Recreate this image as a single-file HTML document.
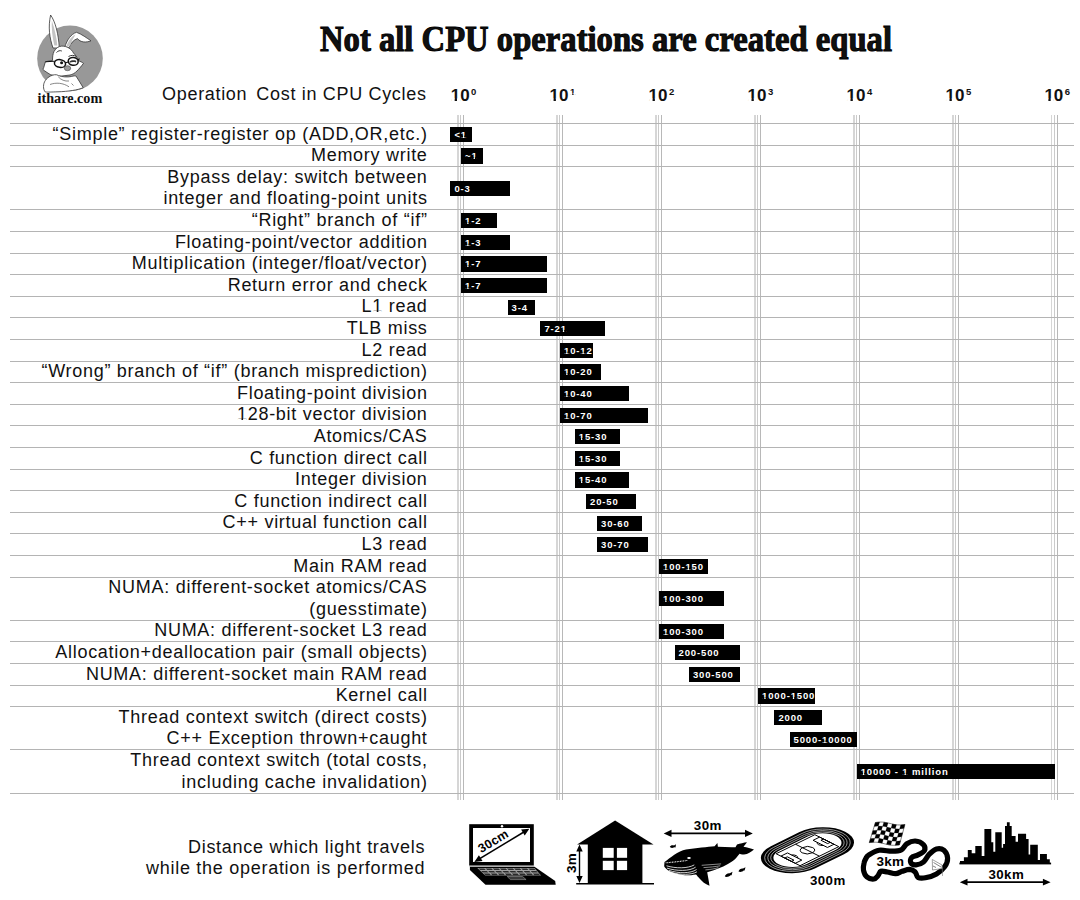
<!DOCTYPE html>
<html><head><meta charset="utf-8">
<style>
html,body{margin:0;padding:0;background:#fff;}
body{width:1080px;height:900px;position:relative;overflow:hidden;font-family:"Liberation Sans",sans-serif;color:#111;}
.hl{position:absolute;left:10px;width:1064px;height:1px;background:#b4b4b4;}
.vl{position:absolute;top:115px;height:685px;width:1.4px;}
.vl.a{background:#d6d6d6;width:1.8px}
.vl.b{background:#cbcbcb;}
.vl.c{background:#b8b8b8;width:1.2px}
.lb{position:absolute;right:652.4px;height:21.6px;line-height:21.9px;font-size:18px;white-space:nowrap;letter-spacing:0.72px;}
.bar{position:absolute;height:15.3px;background:#000;color:#fff;font-weight:bold;font-size:9.5px;line-height:15.3px;letter-spacing:0.85px;padding-left:4px;box-sizing:border-box;white-space:nowrap;}
.ax{position:absolute;top:85.6px;font-weight:bold;font-size:17px;line-height:20px;}
.ax sup{font-size:9.5px;vertical-align:0;position:relative;top:-5.6px;margin-left:1.5px}
.title{position:absolute;left:320px;top:19.6px;font-family:"Liberation Serif",serif;font-weight:bold;font-size:35px;white-space:nowrap;transform-origin:0 0;transform:scaleX(0.933);-webkit-text-stroke:1px #000;}
.hdr{position:absolute;right:653.4px;top:84px;font-size:18px;line-height:20px;white-space:nowrap;letter-spacing:0.68px}
.dist{position:absolute;right:654.8px;top:837.2px;font-size:18px;line-height:21.2px;text-align:right;white-space:nowrap;letter-spacing:0.72px}
.ic{position:absolute;left:0;top:0;}
.logo-t{position:absolute;left:37.5px;top:89.5px;font-family:"Liberation Serif",serif;font-weight:bold;font-size:14.2px;white-space:nowrap;}
</style></head><body>
<div class="logo-t">ithare.com</div>
<div class="title">Not all CPU operations are created equal</div>
<div class="hdr">Operation <span style="margin-left:3.4px"></span>Cost in CPU Cycles</div>
<div class="vl a" style="left:457.0px"></div>
<div class="vl b" style="left:459.8px"></div>
<div class="vl c" style="left:463.0px"></div>
<div class="vl a" style="left:555.9px"></div>
<div class="vl b" style="left:558.8px"></div>
<div class="vl c" style="left:561.9px"></div>
<div class="vl a" style="left:654.9px"></div>
<div class="vl b" style="left:657.7px"></div>
<div class="vl c" style="left:660.9px"></div>
<div class="vl a" style="left:753.8px"></div>
<div class="vl b" style="left:756.6px"></div>
<div class="vl c" style="left:759.8px"></div>
<div class="vl a" style="left:852.8px"></div>
<div class="vl b" style="left:855.6px"></div>
<div class="vl c" style="left:858.8px"></div>
<div class="vl a" style="left:951.8px"></div>
<div class="vl b" style="left:954.6px"></div>
<div class="vl c" style="left:957.8px"></div>
<div class="vl a" style="left:1050.7px"></div>
<div class="vl b" style="left:1053.5px"></div>
<div class="vl c" style="left:1056.7px"></div>
<div class="hl" style="top:123px"></div>
<div class="hl" style="top:145px"></div>
<div class="hl" style="top:166px"></div>
<div class="hl" style="top:209px"></div>
<div class="hl" style="top:231px"></div>
<div class="hl" style="top:253px"></div>
<div class="hl" style="top:274px"></div>
<div class="hl" style="top:296px"></div>
<div class="hl" style="top:317px"></div>
<div class="hl" style="top:339px"></div>
<div class="hl" style="top:361px"></div>
<div class="hl" style="top:382px"></div>
<div class="hl" style="top:404px"></div>
<div class="hl" style="top:425px"></div>
<div class="hl" style="top:447px"></div>
<div class="hl" style="top:469px"></div>
<div class="hl" style="top:490px"></div>
<div class="hl" style="top:512px"></div>
<div class="hl" style="top:533px"></div>
<div class="hl" style="top:555px"></div>
<div class="hl" style="top:577px"></div>
<div class="hl" style="top:620px"></div>
<div class="hl" style="top:641px"></div>
<div class="hl" style="top:663px"></div>
<div class="hl" style="top:685px"></div>
<div class="hl" style="top:706px"></div>
<div class="hl" style="top:749px"></div>
<div class="hl" style="top:793px"></div>
<div class="lb" style="top:123.5px">“Simple” register-register op (ADD,OR,etc.)</div>
<div class="bar" style="left:450.4px;top:126.7px;width:21.6px">&lt;1</div>
<div class="lb" style="top:145.1px">Memory write</div>
<div class="bar" style="left:461.0px;top:148.3px;width:22.0px">~1</div>
<div class="lb" style="top:166.7px">Bypass delay: switch between</div>
<div class="lb" style="top:188.3px">integer and floating-point units</div>
<div class="bar" style="left:450.4px;top:180.7px;width:59.8px">0-3</div>
<div class="lb" style="top:209.9px">“Right” branch of “if”</div>
<div class="bar" style="left:461.0px;top:213.1px;width:35.6px">1-2</div>
<div class="lb" style="top:231.5px">Floating-point/vector addition</div>
<div class="bar" style="left:461.0px;top:234.7px;width:49.2px">1-3</div>
<div class="lb" style="top:253.1px">Multiplication (integer/float/vector)</div>
<div class="bar" style="left:461.0px;top:256.3px;width:86.0px">1-7</div>
<div class="lb" style="top:274.7px">Return error and check</div>
<div class="bar" style="left:461.0px;top:277.9px;width:86.0px">1-7</div>
<div class="lb" style="top:296.3px">L1 read</div>
<div class="bar" style="left:507.6px;top:299.5px;width:27.5px">3-4</div>
<div class="lb" style="top:317.9px">TLB miss</div>
<div class="bar" style="left:540.4px;top:321.1px;width:64.6px">7-21</div>
<div class="lb" style="top:339.5px">L2 read</div>
<div class="bar" style="left:560.0px;top:342.7px;width:33.0px">10-12</div>
<div class="lb" style="top:361.1px">“Wrong” branch of “if” (branch misprediction)</div>
<div class="bar" style="left:560.0px;top:364.3px;width:40.8px">10-20</div>
<div class="lb" style="top:382.7px">Floating-point division</div>
<div class="bar" style="left:560.0px;top:385.9px;width:68.8px">10-40</div>
<div class="lb" style="top:404.3px">128-bit vector division</div>
<div class="bar" style="left:560.0px;top:407.5px;width:87.5px">10-70</div>
<div class="lb" style="top:425.9px">Atomics/CAS</div>
<div class="bar" style="left:574.8px;top:429.1px;width:45.0px">15-30</div>
<div class="lb" style="top:447.5px">C function direct call</div>
<div class="bar" style="left:574.8px;top:450.7px;width:45.0px">15-30</div>
<div class="lb" style="top:469.1px">Integer division</div>
<div class="bar" style="left:574.8px;top:472.3px;width:54.0px">15-40</div>
<div class="lb" style="top:490.7px">C function indirect call</div>
<div class="bar" style="left:586.0px;top:493.9px;width:50.2px">20-50</div>
<div class="lb" style="top:512.3px">C++ virtual function call</div>
<div class="bar" style="left:597.0px;top:515.5px;width:45.0px">30-60</div>
<div class="lb" style="top:533.9px">L3 read</div>
<div class="bar" style="left:597.0px;top:537.1px;width:50.5px">30-70</div>
<div class="lb" style="top:555.5px">Main RAM read</div>
<div class="bar" style="left:659.0px;top:558.7px;width:48.6px">100-150</div>
<div class="lb" style="top:577.1px">NUMA: different-socket atomics/CAS</div>
<div class="lb" style="top:598.7px">(guesstimate)</div>
<div class="bar" style="left:659.0px;top:591.1px;width:65.2px">100-300</div>
<div class="lb" style="top:620.3px">NUMA: different-socket L3 read</div>
<div class="bar" style="left:659.0px;top:623.5px;width:65.2px">100-300</div>
<div class="lb" style="top:641.9px">Allocation+deallocation pair (small objects)</div>
<div class="bar" style="left:674.6px;top:645.1px;width:65.2px">200-500</div>
<div class="lb" style="top:663.5px">NUMA: different-socket main RAM read</div>
<div class="bar" style="left:688.9px;top:666.7px;width:50.9px">300-500</div>
<div class="lb" style="top:685.1px">Kernel call</div>
<div class="bar" style="left:758.1px;top:688.3px;width:57.1px">1000-1500</div>
<div class="lb" style="top:706.7px">Thread context switch (direct costs)</div>
<div class="bar" style="left:774.4px;top:709.9px;width:48.1px">2000</div>
<div class="lb" style="top:728.3px">C++ Exception thrown+caught</div>
<div class="bar" style="left:789.5px;top:731.5px;width:67.2px">5000-10000</div>
<div class="lb" style="top:749.9px">Thread context switch (total costs,</div>
<div class="lb" style="top:771.5px">including cache invalidation)</div>
<div class="bar" style="left:856.7px;top:763.9px;width:198.0px">10000 - 1 million</div>
<div class="ax" style="left:450.7px">10<sup>0</sup></div>
<div class="ax" style="left:549.6px">10<sup>1</sup></div>
<div class="ax" style="left:648.6px">10<sup>2</sup></div>
<div class="ax" style="left:747.5px">10<sup>3</sup></div>
<div class="ax" style="left:846.5px">10<sup>4</sup></div>
<div class="ax" style="left:945.5px">10<sup>5</sup></div>
<div class="ax" style="left:1044.4px">10<sup>6</sup></div>
<svg class="ic" width="1080" height="900" viewBox="0 0 1080 900">
<!-- logo -->
<g id="logo">
<circle cx="70" cy="58.4" r="32.8" fill="#989898"/>
<path d="M53,48 C49.5,38 48,27 50.6,15 C55.5,22 58.5,34 59.3,48 Z" fill="#fff" stroke="#333" stroke-width="0.8"/>
<path d="M54.3,45.5 C52.3,37 51.5,29 51.8,20.5 C54.5,28 56.5,37 57.3,45.5 Z" fill="#c4c4c4"/>
<path d="M64.8,47 C67,40 71,34 76.5,32.3 C81.5,34 87,38.2 91,40.8 C86,42.8 80.5,42.5 77.5,38.6 C73.5,40 70.8,43 69.2,47.5 Z" fill="#fff" stroke="#333" stroke-width="0.8"/>
<path d="M66.5,46 C68.8,40 72,36 75.5,34.5 C73.2,38.5 71.2,42 70,46.2 Z" fill="#c4c4c4"/>
<path d="M61.8,46.1 C67,46 71.5,49 73.5,53 C76,55.5 77.5,58 78,60.5 C80.5,61.5 82.5,62.5 83.5,63.3 C81.5,66 79,69 77,71 C75,73 72.5,74.5 70,75 L58,76.5 C55,76 52.5,75 50.8,74.8 C48.5,73.5 47,72.5 46,71.8 C44.5,71 43.5,70 42.9,69.3 C44,67.5 44.5,64.5 45.3,62 C48,61 50.5,60.8 52.5,60.5 C52.5,57 52.8,54 54,51.5 C56,48 58.5,46.3 61.8,46.1 Z" fill="#fff" stroke="#333" stroke-width="0.8"/>
<ellipse cx="60" cy="63.5" rx="5.6" ry="3.9" fill="#fff" stroke="#111" stroke-width="1.5" transform="rotate(8 60 63.5)"/>
<ellipse cx="73.2" cy="61.4" rx="5" ry="3.9" fill="#fff" stroke="#111" stroke-width="1.5" transform="rotate(8 73.2 61.4)"/>
<path d="M45.3,61.7 L54.5,61.3 M65.5,62.8 L68.3,62 M78,60 L79.5,58.6" stroke="#111" stroke-width="1.1" fill="none"/>
<circle cx="61.6" cy="62.8" r="1.5" fill="#111"/>
<path d="M69.5,61.6 C71,60.2 73.5,60 76.3,60.8 L76,62.5 C74,61.8 71.5,62 69.5,62.8 Z" fill="#333"/>
<path d="M56.5,52.5 C58,50.8 60,50.2 61.8,51 M68.5,56.5 C71,55 74,55 76.5,56.5" stroke="#222" stroke-width="0.9" fill="none"/>
<ellipse cx="67.5" cy="68.2" rx="3.2" ry="2.5" fill="#9a9a9a" stroke="#444" stroke-width="0.6"/>
<path d="M43.5,86.5 C43.5,82 46,78.5 50.5,76 C53,74.8 56,74 58.5,75.5 C62,77 67,77.3 71.5,76.5 C73.5,76 75,75.6 76,76 C78.5,80 81,84 83.2,87.7 C78,90 68,91.5 58,91.8 C52,92 47.5,92.2 45.3,92 C44,90.5 43.5,88.5 43.5,86.5 Z" fill="#fff" stroke="#333" stroke-width="0.8"/>
<path d="M50,84.5 C56,82.3 63,82.8 69,86.8 M58.2,76.7 C61,80 65,81.5 69,81 M71.5,83.5 L73.5,85.5" stroke="#555" stroke-width="0.7" fill="none"/>
</g>
<!-- laptop -->
<g id="laptop">
<rect x="469.2" y="824.2" width="64.6" height="41.4" fill="#000"/>
<rect x="473" y="828" width="57" height="34" fill="#fff"/>
<circle cx="502" cy="826.2" r="1.2" fill="#fff"/>
<rect x="469.5" y="865.8" width="65" height="1.1" fill="#a8a8a8"/>
<path d="M469.9,867 L534.9,867 L555.2,881 L555.7,884.8 L485.5,884.8 L469.9,870 Z" fill="#000"/>
<path d="M477.3,868.0 L534.5,868.0 L541.1,875.6 L485.2,875.6 Z" fill="#a0a0a0"/>
<path d="M478.46,868.46 L484.23,868.46 L485.88,870.08 L480.14,870.08Z M481.09,870.99 L486.81,870.99 L488.47,872.61 L482.77,872.61Z M483.72,873.52 L489.40,873.52 L491.05,875.14 L485.40,875.14Z M485.60,868.46 L491.37,868.46 L492.99,870.08 L487.25,870.08Z M488.17,870.99 L493.90,870.99 L495.52,872.61 L489.82,872.61Z M490.75,873.52 L496.43,873.52 L498.05,875.14 L492.39,875.14Z M492.74,868.46 L498.51,868.46 L500.09,870.08 L494.35,870.08Z M495.26,870.99 L500.99,870.99 L502.57,872.61 L496.87,872.61Z M497.78,873.52 L503.46,873.52 L505.05,875.14 L499.39,875.14Z M499.88,868.46 L505.65,868.46 L507.20,870.08 L501.46,870.08Z M502.35,870.99 L508.07,870.99 L509.62,872.61 L503.92,872.61Z M504.81,873.52 L510.49,873.52 L512.04,875.14 L506.39,875.14Z M507.02,868.46 L512.79,868.46 L514.31,870.08 L508.56,870.08Z M509.43,870.99 L515.16,870.99 L516.67,872.61 L510.98,872.61Z M511.84,873.52 L517.53,873.52 L519.04,875.14 L513.39,875.14Z M514.16,868.46 L519.93,868.46 L521.41,870.08 L515.67,870.08Z M516.52,870.99 L522.24,870.99 L523.72,872.61 L518.03,872.61Z M518.88,873.52 L524.56,873.52 L526.04,875.14 L520.38,875.14Z M521.30,868.46 L527.07,868.46 L528.52,870.08 L522.77,870.08Z M523.60,870.99 L529.33,870.99 L530.78,872.61 L525.08,872.61Z M525.91,873.52 L531.59,873.52 L533.04,875.14 L527.38,875.14Z M528.44,868.46 L534.21,868.46 L535.62,870.08 L529.88,870.08Z M530.69,870.99 L536.42,870.99 L537.83,872.61 L532.13,872.61Z M532.94,873.52 L538.62,873.52 L540.03,875.14 L534.38,875.14Z" fill="#2a2a2a"/>
<path d="M507.2,876.5 L522.6,876.5 L526.1,879.6 L510.3,879.6 Z" fill="#3a3a3a" stroke="#9a9a9a" stroke-width="0.6"/>
<g transform="translate(474.3,862) rotate(-31.15)">
<line x1="4" y1="0" x2="60.3" y2="0" stroke="#000" stroke-width="1.6"/>
<path d="M0,0 L7.5,-3.5 L7.5,3.5 Z M64.3,0 L56.8,-3.5 L56.8,3.5 Z" fill="#000"/>
<text x="10.5" y="-4" font-family="Liberation Sans" font-weight="bold" font-size="12.5" letter-spacing="0.3">30cm</text>
</g>
</g>
<!-- house -->
<g id="house">
<path d="M615.1,820.6 L653.5,844.4 L577.1,844.4 Z" fill="#000"/>
<rect x="587.8" y="844" width="54.6" height="39.7" fill="#000"/>
<rect x="576.2" y="883" width="77.8" height="1.5" fill="#000"/>
<rect x="602.8" y="847.9" width="10.9" height="9.9" fill="#fff"/>
<rect x="616.9" y="847.9" width="10.2" height="9.9" fill="#fff"/>
<rect x="602.8" y="860.8" width="10.9" height="9.3" fill="#fff"/>
<rect x="616.9" y="860.8" width="10.2" height="9.3" fill="#fff"/>
<line x1="579.5" y1="849" x2="579.5" y2="879" stroke="#000" stroke-width="1.4"/>
<path d="M579.5,844.4 L576.3,851.5 L582.7,851.5 Z M579.5,883 L576.3,875.9 L582.7,875.9 Z" fill="#000"/>
<text transform="translate(576.4,873) rotate(-90)" font-family="Liberation Sans" font-weight="bold" font-size="13.5" letter-spacing="0.2">3m</text>
</g>
<!-- whale -->
<g id="whale">
<line x1="670" y1="833.4" x2="746" y2="833.4" stroke="#000" stroke-width="1.7"/>
<path d="M663.7,833.4 L671.5,829.8 L671.5,837 Z M752.8,833.4 L745,829.8 L745,837 Z" fill="#000"/>
<text x="693.8" y="829.7" font-family="Liberation Sans" font-weight="bold" font-size="13.4" letter-spacing="0.45">30m</text>
<path d="M664.5,862 C670,858 678,851 686,849.5 C696,848 708,847 714.6,846.3 L717.4,843.1 L717.9,846.8 C724,847 730,847.5 735.5,847.2 L737,844.5 C740,843.5 744,842.5 747,842.2 L743.5,846.8 C747,847.5 751,848.5 754,849.6 C751,852 748,854.5 744,854.5 C741,854.5 740,853.5 739.6,853.7 C737,857 735,859.5 732,861.5 C727,865 720,868 713,870.5 L707.2,872.3 C708,877 709,882 709.5,885.7 C705,884 702,881.5 700,879 C698,877 697,875.5 696,874.5 C690,875.5 686,875.5 683,875 C676,874 670,872 667,869.5 C665,868 664,866.5 664.2,865.8 Z" fill="#000"/>
<ellipse cx="689" cy="858" rx="1.8" ry="1" fill="#fff"/>
<path d="M665.7,862.8 C673.0,862.3 680.4,861.3 687.8,860.4" stroke="#fff" stroke-width="1.1" fill="none" stroke-dasharray="0.9 0.7"/>
<path d="M666.5,865.8 C675.7,868.6 687.8,868.6 694.3,864.9 M666.9,868.1 C676.7,871.3 689.6,871.3 695.6,867.2 M668.8,870.4 C678.5,873.6 690.6,873.6 696.6,869.5 M672.0,872.7 C680.4,875.0 691.5,875.0 697.0,871.8" stroke="#fff" stroke-width="0.8" fill="none"/>
<path d="M701.7,865.3 C708.1,864.9 714.6,864.4 721.1,863.9 M703.5,867.6 C710.0,867.2 715.6,866.7 720.2,865.8 M705.4,869.9 C710.9,869.5 715.6,868.6 718.3,867.6" stroke="#fff" stroke-width="0.55" fill="none"/>
<path d="M669.8,846.8 C670.5,845.2 672.5,844.8 674,845.6 L676,844.3 L675.5,847.5 L674.2,847.2 C672.5,848.3 670.5,848 669.8,846.8 Z" fill="#000"/>
<path d="M724.8,876.5 C725.3,874.3 727.5,873 729.8,873.3 L732.5,871.8 L731.6,875.2 L730.5,875.3 C729,876.8 726.5,877.3 724.8,876.5 Z" fill="#000"/>
<path d="M738.5,871.5 C739,869.5 741,868.3 743,868.6 L745.5,867.2 L744.6,870.4 L743.6,870.5 C742.3,872 740,872.3 738.5,871.5 Z" fill="#000"/>
</g>
<!-- stadium -->
<g id="stadium">
<g transform="matrix(0.2513,-0.1237,0.239,0.1195,807.45,850.2)">
<path d="M-57,-93 L57,-93 A93,93 0 0 1 57,93 L-57,93 A93,93 0 0 1 -57,-93 Z" fill="#000"/>
<path d="M-57,-82 L57,-82 A82,82 0 0 1 57,82 L-57,82 A82,82 0 0 1 -57,-82 Z" fill="none" stroke="#fff" stroke-width="0.6" vector-effect="non-scaling-stroke"/>
<path d="M-57,-73 L57,-73 A73,73 0 0 1 57,73 L-57,73 A73,73 0 0 1 -57,-73 Z" fill="none" stroke="#fff" stroke-width="0.6" vector-effect="non-scaling-stroke"/>
<path d="M-57,-64.5 L57,-64.5 A64.5,64.5 0 0 1 57,64.5 L-57,64.5 A64.5,64.5 0 0 1 -57,-64.5 Z" fill="none" stroke="#fff" stroke-width="0.6" vector-effect="non-scaling-stroke"/>
<path d="M-57,-57 L57,-57 A57,57 0 0 1 57,57 L-57,57 A57,57 0 0 1 -57,-57 Z" fill="#fff"/>
<g fill="none" stroke="#000" stroke-width="1" vector-effect="non-scaling-stroke">
<rect x="-77" y="-50" width="154" height="100" vector-effect="non-scaling-stroke"/>
<line x1="0" y1="-50" x2="0" y2="50" vector-effect="non-scaling-stroke"/>
<circle cx="0" cy="0" r="21" vector-effect="non-scaling-stroke"/>
<rect x="-77" y="-30" width="26" height="60" vector-effect="non-scaling-stroke"/>
<rect x="51" y="-30" width="26" height="60" vector-effect="non-scaling-stroke"/>
<rect x="-77" y="-14" width="10" height="28" vector-effect="non-scaling-stroke"/>
<rect x="67" y="-14" width="10" height="28" vector-effect="non-scaling-stroke"/>
<path d="M-51,-13 A16,16 0 0 1 -51,13 M51,-13 A16,16 0 0 0 51,13" vector-effect="non-scaling-stroke"/>
</g>
</g>
<text x="810" y="884.7" font-family="Liberation Sans" font-weight="bold" font-size="13.3" letter-spacing="0.4">300m</text>
</g>
<!-- race track -->
<g id="race">
<path d="M868.9,854.9 C871.0,853.6 875.2,850.9 879.1,850.3 C882.9,849.7 888.3,851.3 892.0,851.2 C895.7,851.1 898.8,851.0 901.3,849.8 C903.8,848.6 904.5,845.3 906.9,843.8 C909.2,842.3 912.4,840.9 915.2,841.0 C918.0,841.2 922.0,843.1 923.5,844.7 C925.0,846.3 925.2,849.0 924.3,850.7 C923.3,852.4 920.1,853.8 918.0,854.9 C915.8,856.1 912.7,856.4 911.5,857.7 C910.3,859.0 910.1,861.6 910.8,862.8 C911.6,864.0 914.0,865.0 916.1,864.8 C918.2,864.7 921.4,863.6 923.5,861.9 C925.7,860.1 926.9,856.6 929.1,854.4 C931.2,852.3 934.0,849.6 936.5,848.9 C939.0,848.2 942.0,848.7 943.9,850.3 C945.7,851.8 947.4,855.4 947.6,858.1 C947.7,860.8 946.7,863.9 944.8,866.5 C943.0,869.1 939.7,872.0 936.5,873.9 C933.2,875.8 928.5,877.2 925.4,877.8 C922.3,878.4 919.7,878.4 918.0,877.4 C916.3,876.5 916.6,873.4 915.2,872.0 C913.8,870.7 911.8,869.6 909.6,869.4 C907.5,869.3 904.5,870.6 902.2,871.3 C899.9,872.0 898.2,873.6 895.7,873.7 C893.3,873.8 889.9,872.4 887.4,872.0 C884.9,871.6 882.5,870.7 880.9,871.3 C879.4,871.9 879.1,874.5 878.0,875.7 C876.8,877.0 875.8,878.8 874.0,879.0 C872.2,879.2 868.8,878.6 867.0,877.1 C865.3,875.7 864.0,872.6 863.5,870.2 C863.0,867.8 863.6,864.8 864.1,862.8 C864.5,860.8 865.3,859.5 866.1,858.1 C866.9,856.8 866.7,856.2 868.9,854.9 Z" fill="none" stroke="#000" stroke-width="5.2" stroke-linejoin="round"/>
<path d="M875.40,822.50 L876.88,822.32 L878.35,822.17 L879.82,822.07 L881.30,822.04 L882.77,822.10 L884.25,822.24 L885.72,822.47 L887.20,822.77 L888.67,823.12 L890.15,823.50 L891.62,823.88 L893.10,824.23 L894.58,824.53 L896.05,824.76 L897.52,824.90 L899.00,824.96 L900.47,824.93 L901.95,824.83 L903.42,824.68 L904.90,824.50 L903.80,828.58 L902.70,832.66 L901.60,836.74 L900.50,840.82 L899.40,844.90 L897.89,845.06 L896.39,845.20 L894.88,845.28 L893.38,845.30 L891.88,845.22 L890.37,845.07 L888.87,844.82 L887.36,844.51 L885.86,844.14 L884.35,843.75 L882.85,843.36 L881.34,842.99 L879.83,842.68 L878.33,842.43 L876.82,842.28 L875.32,842.20 L873.82,842.22 L872.31,842.30 L870.80,842.44 L869.30,842.60 L870.52,838.58 L871.74,834.56 L872.96,830.54 L874.18,826.52Z" fill="#fff" stroke="#000" stroke-width="0.5"/><path d="M875.40,822.50 L879.61,822.08 L878.41,826.11 L874.18,826.52Z M872.96,830.54 L877.21,830.14 L876.01,834.17 L871.74,834.56Z M870.52,838.58 L874.80,838.20 L873.60,842.22 L869.30,842.60Z M878.41,826.11 L882.64,826.23 L881.46,830.27 L877.21,830.14Z M876.01,834.17 L880.27,834.31 L879.09,838.34 L874.80,838.20Z M883.83,822.19 L888.04,822.97 L886.87,827.01 L882.64,826.23Z M881.46,830.27 L885.71,831.06 L884.54,835.10 L880.27,834.31Z M879.09,838.34 L883.37,839.15 L882.20,843.20 L877.90,842.38Z M886.87,827.01 L891.11,828.09 L889.95,832.14 L885.71,831.06Z M884.54,835.10 L888.80,836.20 L887.65,840.25 L883.37,839.15Z M892.26,824.03 L896.47,824.81 L895.34,828.87 L891.11,828.09Z M889.95,832.14 L894.20,832.93 L893.07,836.99 L888.80,836.20Z M887.65,840.25 L891.93,841.06 L890.80,845.12 L886.50,844.30Z M895.34,828.87 L899.57,828.99 L898.45,833.06 L894.20,832.93Z M893.07,836.99 L897.33,837.13 L896.22,841.20 L891.93,841.06Z M900.69,824.92 L904.90,824.50 L903.80,828.58 L899.57,828.99Z M898.45,833.06 L902.70,832.66 L901.60,836.74 L897.33,837.13Z M896.22,841.20 L900.50,840.82 L899.40,844.90 L895.10,845.28Z" fill="#000" stroke="#000" stroke-width="0.2" stroke-linejoin="miter"/>
<text x="876.6" y="865.5" font-family="Liberation Sans" font-weight="bold" font-size="13.5" letter-spacing="0.2">3km</text>
<path d="M932.5,870 L932.3,859.5 L942,865 L942.3,868.5 Z" fill="#fff" stroke="#777" stroke-width="0.7"/><path d="M933.5,862.5 L941.5,867.3 M933,866 L936,867.5" stroke="#777" stroke-width="0.9"/><path d="M942.3,868.5 L942.5,876" stroke="#777" stroke-width="0.6"/>
</g>
<!-- city -->
<g id="city">
<path d="M960.0,863.9 L960.0,861.1 L963.9,861.1 L963.9,857.2 L967.8,857.2 L967.8,850.0 L971.7,850.0 L971.7,853.3 L975.3,853.3 L975.3,846.1 L981.7,846.1 L981.7,856.1 L984.4,856.1 L984.4,828.9 L991.3,828.9 L991.3,842.2 L993.3,842.2 L993.3,851.7 L995.3,851.7 L995.3,832.2 L1001.7,832.2 L1001.7,847.8 L1003.1,847.8 L1003.1,844.1 L1005.0,844.1 L1005.0,826.1 L1006.9,826.1 L1006.9,822.2 L1009.7,822.2 L1009.7,826.1 L1011.7,826.1 L1011.7,836.1 L1015.6,836.1 L1015.6,841.7 L1018.0,841.7 L1018.0,833.7 L1026.1,833.7 L1026.1,838.9 L1028.6,838.9 L1028.6,854.4 L1030.2,854.4 L1030.2,844.8 L1037.8,844.8 L1037.8,860.0 L1040.0,860.0 L1040.0,853.9 L1046.9,853.9 L1046.9,859.2 L1049.8,859.2 L1049.8,863.9Z" fill="#000"/>
<rect x="959.4" y="862.6" width="91.7" height="1.8" fill="#000"/>
<text x="988.5" y="878.9" font-family="Liberation Sans" font-weight="bold" font-size="13.3" letter-spacing="0.4">30km</text>
<line x1="966" y1="882.2" x2="1044" y2="882.2" stroke="#000" stroke-width="1.7"/>
<path d="M959.8,882.2 L967.5,878.8 L967.5,885.6 Z M1050.6,882.2 L1042.9,878.8 L1042.9,885.6 Z" fill="#000"/>
</g>
</svg>

<div class="dist">Distance which light travels<br>while the operation is performed</div>
<svg width="1080" height="900" style="position:absolute;left:0;top:0"><rect x="460.88" y="135.57" width="2.12" height="2.07" fill="#000"/><rect x="464.30" y="135.57" width="2.00" height="2.07" fill="#000"/><rect x="471.49" y="157.17" width="2.12" height="2.07" fill="#000"/><rect x="474.91" y="157.17" width="2.00" height="2.07" fill="#000"/><rect x="465.10" y="221.97" width="2.12" height="2.07" fill="#000"/><rect x="468.52" y="221.97" width="2.00" height="2.07" fill="#000"/><rect x="465.10" y="243.57" width="2.12" height="2.07" fill="#000"/><rect x="468.52" y="243.57" width="2.00" height="2.07" fill="#000"/><rect x="465.10" y="265.17" width="2.12" height="2.07" fill="#000"/><rect x="468.52" y="265.17" width="2.00" height="2.07" fill="#000"/><rect x="465.10" y="286.77" width="2.12" height="2.07" fill="#000"/><rect x="468.52" y="286.77" width="2.00" height="2.07" fill="#000"/><rect x="373.11" y="310.49" width="3.66" height="2.44" fill="#fff"/><rect x="378.35" y="310.49" width="3.51" height="2.44" fill="#fff"/><rect x="560.75" y="329.97" width="2.12" height="2.07" fill="#000"/><rect x="564.18" y="329.97" width="2.00" height="2.07" fill="#000"/><rect x="564.10" y="351.57" width="2.12" height="2.07" fill="#000"/><rect x="567.52" y="351.57" width="2.00" height="2.07" fill="#000"/><rect x="580.36" y="351.57" width="2.12" height="2.07" fill="#000"/><rect x="583.79" y="351.57" width="2.00" height="2.07" fill="#000"/><rect x="564.10" y="373.17" width="2.12" height="2.07" fill="#000"/><rect x="567.52" y="373.17" width="2.00" height="2.07" fill="#000"/><rect x="564.10" y="394.77" width="2.12" height="2.07" fill="#000"/><rect x="567.52" y="394.77" width="2.00" height="2.07" fill="#000"/><rect x="237.82" y="418.49" width="3.66" height="2.44" fill="#fff"/><rect x="243.07" y="418.49" width="3.51" height="2.44" fill="#fff"/><rect x="564.10" y="416.38" width="2.12" height="2.07" fill="#000"/><rect x="567.52" y="416.38" width="2.00" height="2.07" fill="#000"/><rect x="578.90" y="437.97" width="2.12" height="2.07" fill="#000"/><rect x="582.32" y="437.97" width="2.00" height="2.07" fill="#000"/><rect x="578.90" y="459.57" width="2.12" height="2.07" fill="#000"/><rect x="582.32" y="459.57" width="2.00" height="2.07" fill="#000"/><rect x="578.90" y="481.17" width="2.12" height="2.07" fill="#000"/><rect x="582.32" y="481.17" width="2.00" height="2.07" fill="#000"/><rect x="663.10" y="567.57" width="2.12" height="2.07" fill="#000"/><rect x="666.52" y="567.57" width="2.00" height="2.07" fill="#000"/><rect x="685.50" y="567.57" width="2.12" height="2.07" fill="#000"/><rect x="688.93" y="567.57" width="2.00" height="2.07" fill="#000"/><rect x="663.10" y="599.97" width="2.12" height="2.07" fill="#000"/><rect x="666.52" y="599.97" width="2.00" height="2.07" fill="#000"/><rect x="663.10" y="632.38" width="2.12" height="2.07" fill="#000"/><rect x="666.52" y="632.38" width="2.00" height="2.07" fill="#000"/><rect x="762.19" y="697.17" width="2.12" height="2.07" fill="#000"/><rect x="765.61" y="697.17" width="2.00" height="2.07" fill="#000"/><rect x="790.74" y="697.17" width="2.12" height="2.07" fill="#000"/><rect x="794.16" y="697.17" width="2.00" height="2.07" fill="#000"/><rect x="822.15" y="740.38" width="2.12" height="2.07" fill="#000"/><rect x="825.57" y="740.38" width="2.00" height="2.07" fill="#000"/><rect x="860.79" y="772.77" width="2.12" height="2.07" fill="#000"/><rect x="864.21" y="772.77" width="2.00" height="2.07" fill="#000"/><rect x="902.44" y="772.77" width="2.12" height="2.07" fill="#000"/><rect x="905.86" y="772.77" width="2.00" height="2.07" fill="#000"/><rect x="451.26" y="98.49" width="3.40" height="2.83" fill="#fff"/><rect x="456.99" y="98.49" width="3.18" height="2.83" fill="#fff"/><rect x="550.16" y="98.49" width="3.40" height="2.83" fill="#fff"/><rect x="555.89" y="98.49" width="3.18" height="2.83" fill="#fff"/><rect x="570.11" y="92.88" width="2.12" height="2.07" fill="#fff"/><rect x="573.54" y="92.88" width="2.00" height="2.07" fill="#fff"/><rect x="649.16" y="98.49" width="3.40" height="2.83" fill="#fff"/><rect x="654.89" y="98.49" width="3.18" height="2.83" fill="#fff"/><rect x="748.07" y="98.49" width="3.40" height="2.83" fill="#fff"/><rect x="753.80" y="98.49" width="3.18" height="2.83" fill="#fff"/><rect x="847.07" y="98.49" width="3.40" height="2.83" fill="#fff"/><rect x="852.80" y="98.49" width="3.18" height="2.83" fill="#fff"/><rect x="946.07" y="98.49" width="3.40" height="2.83" fill="#fff"/><rect x="951.80" y="98.49" width="3.18" height="2.83" fill="#fff"/><rect x="1044.96" y="98.49" width="3.40" height="2.83" fill="#fff"/><rect x="1050.69" y="98.49" width="3.18" height="2.83" fill="#fff"/></svg>
</body></html>
